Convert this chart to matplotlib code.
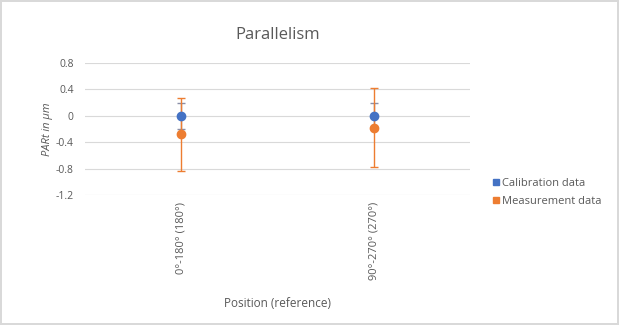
import numpy as np
import matplotlib.pyplot as plt
from matplotlib.lines import Line2D

plt.rcParams['font.family'] = ['Open Sans', 'DejaVu Sans']

positions = ["0°-180° (180°)", "90°-270° (270°)"]
calibration = [0.0, 0.0]
calibration_err = [0.2, 0.2]
measurement = [-0.28, -0.18]
measurement_err = [0.55, 0.6]

blue = '#4472C4'
orange = '#ED7D31'
text_grey = '#595959'

fig = plt.figure(figsize=(6.19, 3.25), dpi=100)
fig.patch.set_edgecolor('#d9d9d9')
fig.patch.set_linewidth(1.5)
ax = fig.add_axes([0.137, 0.40, 0.623, 0.406])

x = np.arange(len(positions)) + 0.5
ax.errorbar(x, calibration, yerr=calibration_err, fmt='o', color=blue, ms=6,
            ecolor='#8a8fa8', elinewidth=1, capsize=3, label='Calibration data', zorder=3)
ax.errorbar(x, measurement, yerr=measurement_err, fmt='o', color=orange, ms=6,
            ecolor=orange, elinewidth=1, capsize=3, label='Measurement data', zorder=3)

ax.set_xlim(0, len(positions))
ax.set_ylim(-1.2, 0.8)
ax.set_yticks([0.8, 0.4, 0, -0.4, -0.8, -1.2])
ax.set_yticklabels(['0.8', '0.4', '0', '-0.4', '-0.8', '-1.2'])
ax.yaxis.grid(True, color='#d9d9d9', lw=0.8)
ax.set_axisbelow(True)
for s in ax.spines.values():
    s.set_visible(False)
ax.tick_params(axis='y', length=0, labelsize=7.5, colors=text_grey, pad=8)
ax.tick_params(axis='x', length=0, labelsize=8, colors=text_grey, pad=5)

ax.set_xticks(x)
ax.set_xticklabels(positions, rotation=90)

ax.set_title('Parallelism', fontsize=12, color=text_grey, pad=17)
ax.set_ylabel('PARt in µm', fontsize=8, color=text_grey, style='italic', labelpad=2)
ax.set_xlabel('Position (reference)', fontsize=8.5, color=text_grey, labelpad=12)

labels = ['Calibration data', 'Measurement data']
leg_handles = [Line2D([], [], marker='s', ls='', color=blue, ms=5),
               Line2D([], [], marker='s', ls='', color=orange, ms=5)]
ax.legend(leg_handles, labels, loc='center left', bbox_to_anchor=(1.03, 0.02),
          frameon=False, fontsize=8, labelcolor=text_grey, handletextpad=0.1,
          handlelength=0.8, labelspacing=0.6)

fig.savefig('out.png', dpi=100)
